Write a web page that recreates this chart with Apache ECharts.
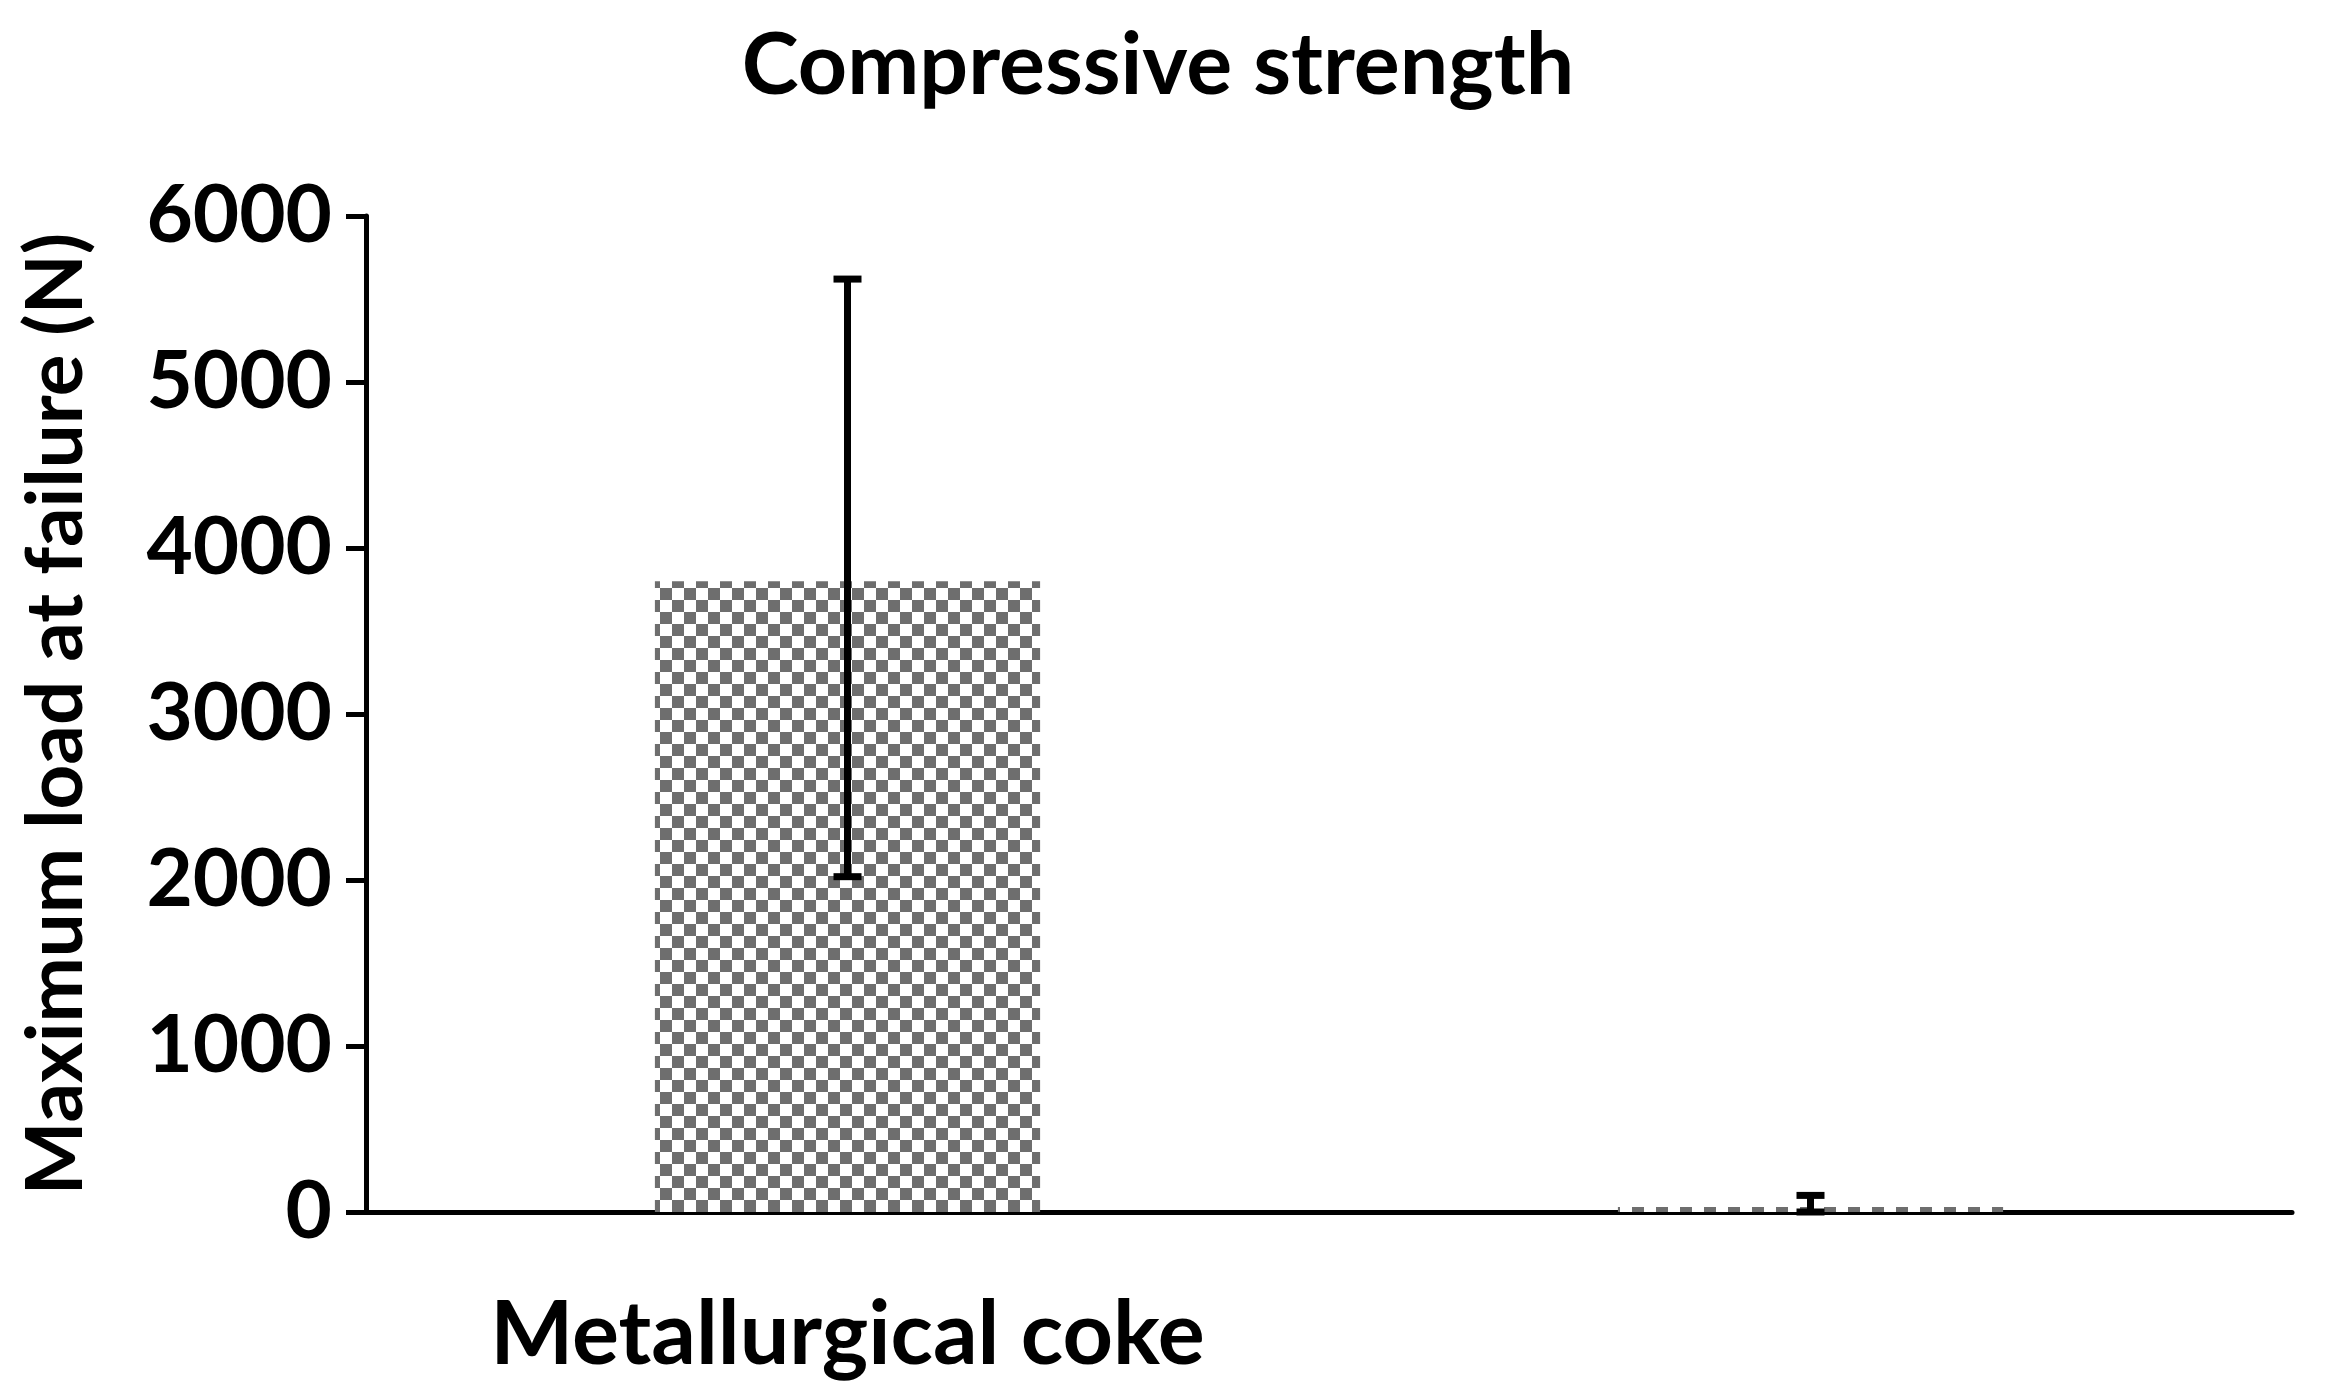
<!DOCTYPE html>
<html>
<head>
<meta charset="utf-8">
<script src="https://cdn.jsdelivr.net/npm/echarts@6/dist/echarts.min.js"></script>
<style>html,body{margin:0;background:#fff}#c{width:2331px;height:1400px}</style>
</head>
<body>
<div id="c"></div>
<script>
const categories = ['Metallurgical coke', 'c-PET/c-ROM blend(3:1)'];
const values = [3800, 30];
const errLow = [2020, 0];
const errHigh = [5620, 100];

// checker pattern like the Excel fill
const pat = document.createElement('canvas');
pat.width = 24; pat.height = 24;
const pc = pat.getContext('2d');
pc.fillStyle = '#ffffff'; pc.fillRect(0, 0, 24, 24);
pc.fillStyle = '#6e6e6e';
pc.fillRect(0, 0, 12, 12); pc.fillRect(12, 12, 12, 12);

const font = 'Lato, "DejaVu Sans", sans-serif';
const chart = echarts.init(document.getElementById('c'));
chart.setOption({
  animation: false,
  title: {
    text: 'Compressive strength', left: 1153, top: 18, textAlign: 'center',
    textStyle: { fontFamily: font, fontSize: 86, fontWeight: 'bold', color: '#000' }
  },
  grid: { left: 366, right: 39, top: 216, bottom: 188 },
  xAxis: {
    type: 'category', data: categories,
    axisLine: { lineStyle: { color: '#000', width: 5 } },
    axisTick: { show: false },
    axisLabel: { fontFamily: font, fontSize: 88, fontWeight: 'bold', color: '#000', margin: 80 }
  },
  yAxis: {
    type: 'value', min: 0, max: 6000, interval: 1000,
    name: 'Maximum load at failure (N)', nameLocation: 'middle', nameGap: 270,
    nameTextStyle: { fontFamily: font, fontSize: 78, fontWeight: 'bold', color: '#000' },
    axisLine: { show: true, lineStyle: { color: '#000', width: 5 } },
    axisTick: { show: true, length: 20, lineStyle: { color: '#000', width: 5 } },
    axisLabel: { fontFamily: font, fontSize: 80, fontWeight: 'bold', color: '#000', margin: 34,
      formatter: v => String(v) },
    splitLine: { show: false }
  },
  series: [{
    type: 'bar', data: values, barWidth: '40%',
    itemStyle: { color: { image: pat, repeat: 'repeat' } }
  }, {
    type: 'custom',
    data: categories.map((c, i) => [i, errLow[i], errHigh[i]]),
    renderItem: function (params, api) {
      const lo = api.coord([api.value(0), api.value(1)]);
      const hi = api.coord([api.value(0), api.value(2)]);
      const x = lo[0], w = 14;
      const st = { stroke: '#000', lineWidth: 7 };
      return { type: 'group', children: [
        { type: 'line', shape: { x1: x, y1: lo[1], x2: x, y2: hi[1] }, style: st },
        { type: 'line', shape: { x1: x - w, y1: lo[1], x2: x + w, y2: lo[1] }, style: st },
        { type: 'line', shape: { x1: x - w, y1: hi[1], x2: x + w, y2: hi[1] }, style: st }
      ] };
    },
    z: 5
  }]
});
</script>
</body>
</html>
